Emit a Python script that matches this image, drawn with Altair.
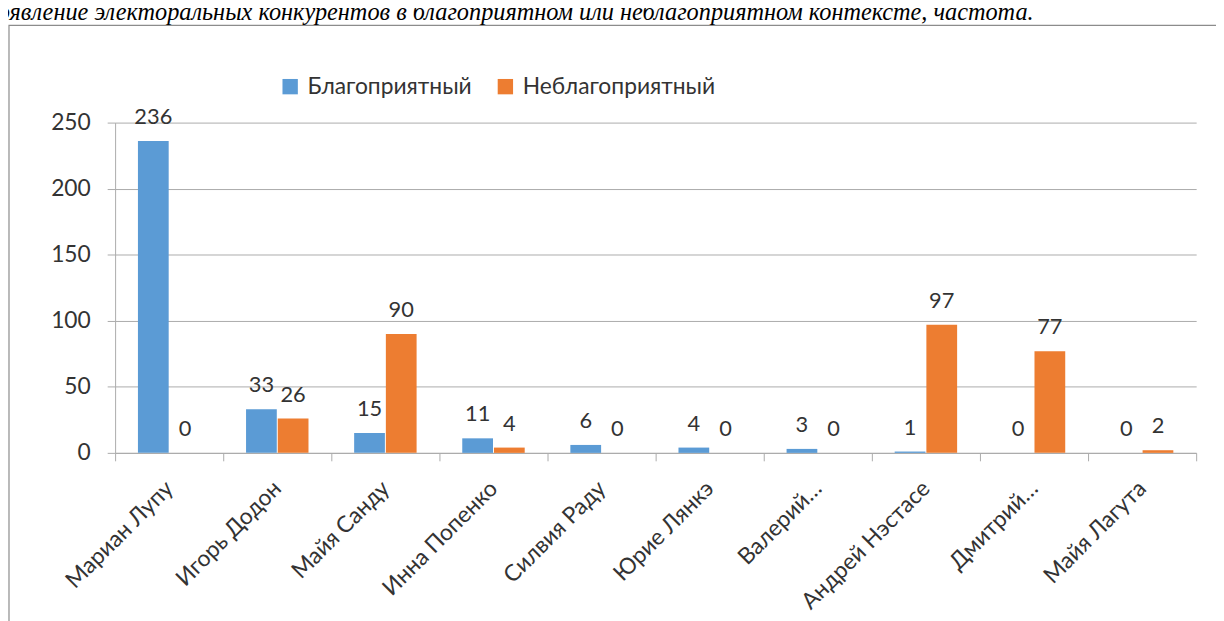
import altair as alt
import pandas as pd

names = ["Мариан Лупу", "Игорь Додон", "Майя Санду", "Инна Попенко", "Силвия Раду",
         "Юрие Лянкэ", "Валерий…", "Андрей Нэстасе", "Дмитрий…", "Майя Лагута"]
series = ["Благоприятный", "Неблагоприятный"]
fav = [236, 33, 15, 11, 6, 4, 3, 1, 0, 0]
unfav = [0, 26, 90, 4, 0, 0, 0, 97, 77, 2]
colors = ["#5B9BD5", "#ED7D31"]
y_ticks = [0, 50, 100, 150, 200, 250]
title_text = "Появление электоральных конкурентов в благоприятном или неблагоприятном контексте, частота."

rows = []
for i, n in enumerate(names):
    rows.append({"name": n, "series": series[0], "value": fav[i]})
    rows.append({"name": n, "series": series[1], "value": unfav[i]})
df = pd.DataFrame(rows)

FONT = "Lato"
TXT = "#333333"
GRID = "#ABABAB"

x_enc = alt.X("name:N", sort=names, title=None,
              scale=alt.Scale(paddingInner=0, paddingOuter=0),
              axis=alt.Axis(labelAngle=-45, labelAlign="right", labelBaseline="middle",
                            labelPadding=24, labelFontSize=23, labelFont=FONT, labelColor=TXT,
                            tickBand="extent", tickSize=8, tickColor=GRID, domainColor=GRID,
                            labelLimit=300, grid=False))
xo_enc = alt.XOffset("series:N", sort=series,
                     scale=alt.Scale(paddingInner=0, paddingOuter=0.705))
y_enc = alt.Y("value:Q", title=None,
              scale=alt.Scale(domain=[0, 250], nice=False),
              axis=alt.Axis(values=y_ticks, tickSize=8, tickColor=GRID, domainColor=GRID,
                            gridColor=GRID, labelFontSize=23, labelFont=FONT, labelColor=TXT,
                            labelPadding=17))
color_enc = alt.Color("series:N", sort=series, title=None,
                      scale=alt.Scale(domain=series, range=colors),
                      legend=alt.Legend(orient="none", legendX=165, legendY=-48,
                                        direction="horizontal", symbolType="square",
                                        symbolSize=240, symbolStrokeWidth=0,
                                        labelFontSize=23, labelFont=FONT, labelColor=TXT,
                                        columnPadding=22, labelOffset=6, labelLimit=400))

base = alt.Chart(df).encode(x=x_enc, xOffset=xo_enc, y=y_enc)

bars = base.mark_bar(size=31).encode(color=color_enc)
labels = base.mark_text(fontSize=22, font=FONT, color=TXT, baseline="alphabetic",
                        dy=-17).encode(text="value:Q")

frame = alt.Chart(pd.DataFrame({"a": [0]})).mark_rect(
    fill=None, stroke="#8C8C8C", strokeWidth=1.2
).encode(x=alt.value(-107), x2=alt.value(1300), y=alt.value(-98), y2=alt.value(800))

title = alt.Chart(pd.DataFrame({"t": [title_text]})).mark_text(
    font="Liberation Serif", fontStyle="italic", fontSize=24.5, color="#000000",
    align="left", baseline="alphabetic"
).encode(x=alt.value(-136), y=alt.value(-103), text="t:N")

chart = alt.layer(frame, bars, labels, title).properties(
    width=1090, height=333,
    autosize=alt.AutoSizeParams(type="none"),
    padding={"left": 108, "top": 113, "right": 20, "bottom": 170},
).configure_view(stroke=None).configure_axis(domainWidth=1)

chart.save("out.html", embed_options={"renderer": "svg", "actions": False})
